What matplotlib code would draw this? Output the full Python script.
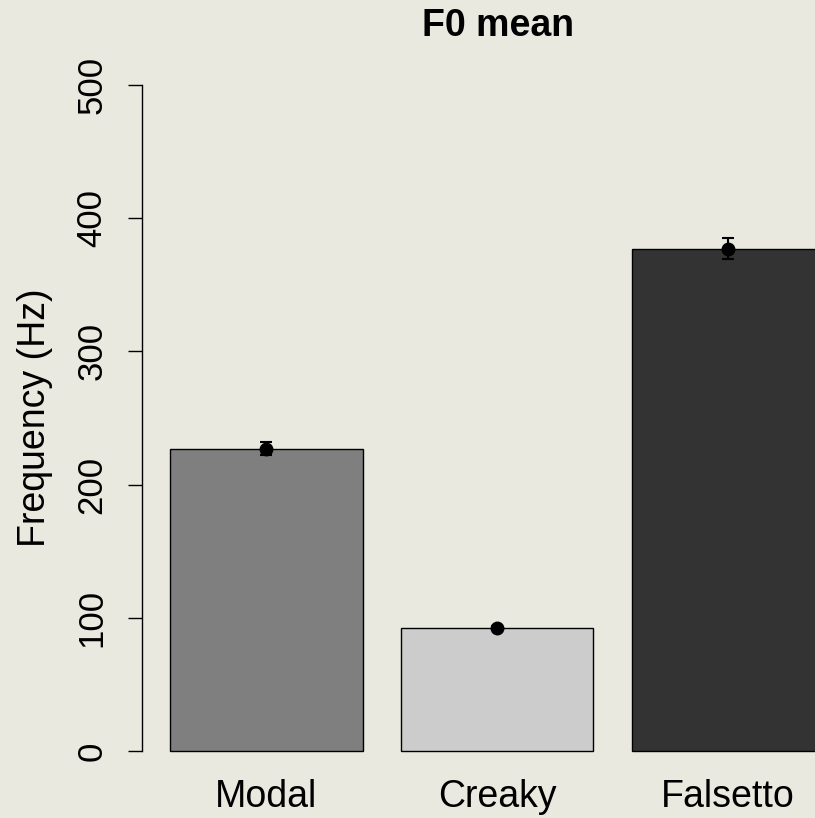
import matplotlib
matplotlib.use("Agg")
import matplotlib.pyplot as plt

# F0 means per phonation type, with standard errors
phonation = ["Modal", "Creaky", "Falsetto"]
f0_mean = [227, 92, 377]
f0_se = [5, 1.5, 8]
bar_colors = ["#7f7f7f", "#cccccc", "#333333"]
y_ticks = [0, 100, 200, 300, 400, 500]

bg = "#e9e9df"
plt.rcParams["font.family"] = ["Liberation Sans", "DejaVu Sans"]

fig = plt.figure(figsize=(8.15, 8.18), dpi=100, facecolor=bg)
# plot region in figure fractions (R-style barplot layout)
ax = fig.add_axes([131.5 / 815, (818 - 771) / 818, (815 - 131.5) / 815, (771 - 65) / 818])
ax.set_facecolor(bg)

# barplot positions: width 1, space 0.2
centers = [0.2 + 0.5 + i * 1.2 for i in range(len(phonation))]
ax.bar(centers, f0_mean, width=1.0, color=bar_colors, edgecolor="black", linewidth=1.0, zorder=2)
ax.errorbar(centers, f0_mean, yerr=f0_se, fmt="o", color="black", markersize=9,
            elinewidth=1.5, capsize=4.5, capthick=1.5, zorder=3)

ax.set_xlim(0, (815 - 131.5) / 192.5)
ax.set_ylim(-15, 515)

for side in ["top", "right", "bottom"]:
    ax.spines[side].set_visible(False)
ax.spines["left"].set_position(("data", (142 - 131.5) / 192.5))
ax.spines["left"].set_bounds(0, 500)
ax.spines["left"].set_linewidth(1.0)

ax.set_yticks(y_ticks)
ax.set_yticklabels([str(t) for t in y_ticks], rotation=90, va="center", fontsize=25)
ax.tick_params(axis="y", length=10, width=1.0, pad=14)

ax.set_xticks(centers)
ax.set_xticklabels(phonation, fontsize=27)
ax.tick_params(axis="x", length=0, pad=6)

fig.text(35 / 815, (818 - 418) / 818, "Frequency (Hz)", rotation=90,
         ha="center", va="center", fontsize=27)
fig.text(498 / 815, (818 - 36) / 818, "F0 mean", ha="center", va="baseline",
         fontsize=27, fontweight="bold")

fig.savefig("out.png", dpi=100, facecolor=bg)
